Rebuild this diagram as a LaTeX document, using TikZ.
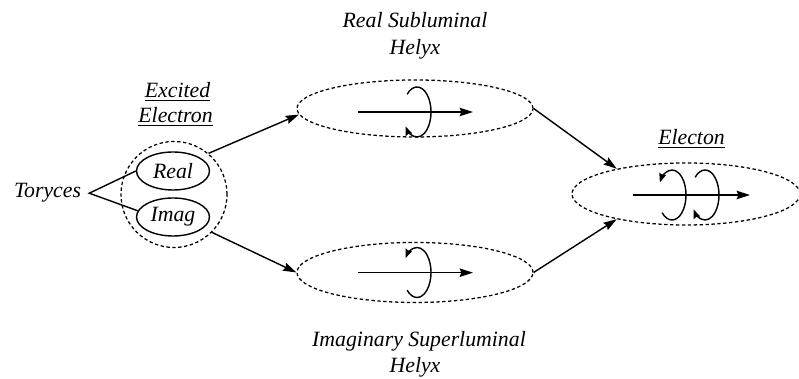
\documentclass[tikz,border=0pt]{standalone}
\usepackage{fontspec}
\setmainfont{Liberation Serif}
\usepackage{tikz}
\usetikzlibrary{arrows.meta,shapes.geometric}
\definecolor{Ink}{HTML}{000000}

\begin{document}
\begin{tikzpicture}[x=1cm,y=1cm,>={Stealth[length=9.5pt,width=6pt,inset=1.2pt]},
  label/.style={font=\fontsize{15.5}{19}\selectfont\itshape,text=Ink,anchor=base,inner sep=0pt},
  part/.style={ellipse,draw=Ink,line width=1pt,inner sep=0pt,font=\fontsize{15.5}{19}\selectfont\itshape},
  cloud/.style={ellipse,draw=Ink,line width=0.9pt,dash pattern=on 2.4pt off 1.8pt,inner sep=0pt},
  link/.style={->,Ink,line width=1pt},
  spin/.style={-{Stealth[length=6.5pt,width=5pt,inset=0.8pt]},Ink,line width=1pt}]
\useasboundingbox (0,0) rectangle (19.975,9.475);
% labels
\node[label,inner sep=0.2cm] (toryces) at (1.188,4.525) {Toryces};
\node[label] (excA) at (4.438,7.025) {\underline{Excited}};
\node[label] (excB) at (4.388,6.400) {\underline{Electron}};
\node[label] (sublA) at (10.375,8.775) {Real Subluminal};
\node[label] (sublB) at (10.375,8.100) {Helyx};
\node[label] (suplA) at (10.475,0.800) {Imaginary Superluminal};
\node[label] (suplB) at (10.375,0.150) {Helyx};
\node[label] (eleA) at (17.288,5.850) {\underline{Electon}};
% ellipses
\node[part,minimum width=1.825cm,minimum height=0.95cm] (real) at (4.325,5.200) {Real};
\node[part,minimum width=1.825cm,minimum height=0.95cm] (imag) at (4.325,4.050) {Imag};
\node[cloud,circle,minimum size=2.65cm] (exc) at (4.350,4.613) {};
\node[cloud,minimum width=5.9cm,minimum height=1.425cm] (subl) at (10.375,6.763) {};
\node[cloud,minimum width=5.9cm,minimum height=1.5cm] (supl) at (10.375,2.663) {};
\node[cloud,minimum width=5.7cm,minimum height=1.55cm] (ele) at (17.150,4.625) {};
% connectors
\draw[Ink,line width=1pt] (real.west) -- (toryces.east) -- (imag.170);
\draw[link] (exc.50) -- (subl.183);
\draw[link] (exc.-45) -- (supl.west);
\draw[link] (subl.east) -- (ele.160);
\draw[link] (supl.east) -- (ele.200);
% helices
\draw[link] (8.950,6.675) -- (11.825,6.675);
\draw[spin] (10.178,7.117) arc[start angle=135,end angle=-145,x radius=0.35,y radius=0.625];
\draw[link] (8.950,2.658) -- (11.825,2.658);
\draw[spin] (10.178,2.221) arc[start angle=-135,end angle=145,x radius=0.35,y radius=0.625];
\draw[link] (15.825,4.600) -- (18.750,4.600);
\draw[spin] (16.553,4.158) arc[start angle=-135,end angle=150,x radius=0.35,y radius=0.625];
\draw[spin] (17.378,5.042) arc[start angle=135,end angle=-145,x radius=0.35,y radius=0.625];
\end{tikzpicture}
\end{document}
